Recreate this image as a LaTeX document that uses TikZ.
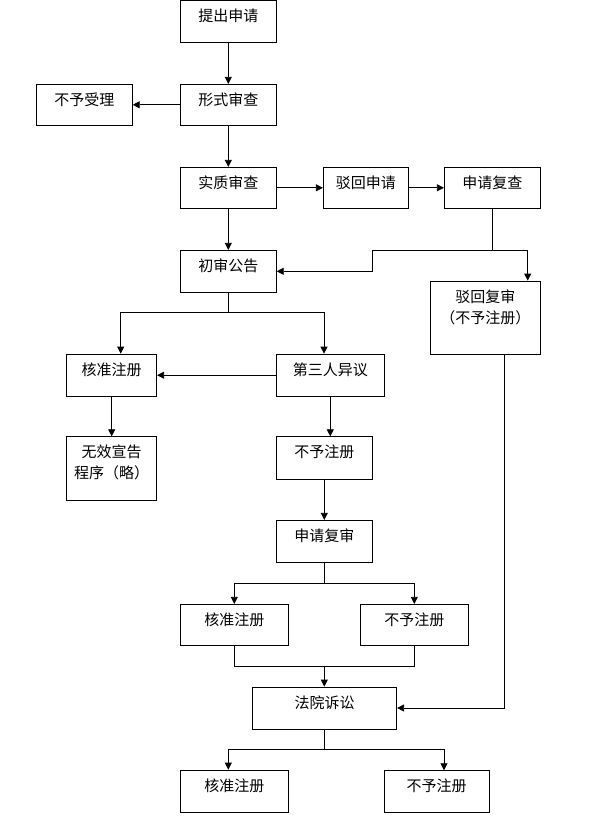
\documentclass[tikz,border=0pt]{standalone}
\usepackage{fontspec}
\setmainfont{Noto Sans CJK SC}
\usetikzlibrary{arrows.meta}
\newcommand\mybox[6]{\node[boxst, minimum width=#3pt, minimum height=#4pt, label={[txt, yshift=-#6pt]north:#5}] (#1) at (#2) {};}
\begin{document}
\begin{tikzpicture}[x=1pt,y=-1pt, line width=0.8pt,
  boxst/.style={draw, inner sep=0pt, fill=white},
  txt/.style={anchor=center, inner sep=0pt, align=center, font=\fontsize{15pt}{21pt}\selectfont},
  arr/.style={-{Triangle[length=7pt,width=7pt]}}]
\useasboundingbox (0,0) rectangle (595,824);
\mybox{a}{228.3,21.4}{96.6}{41.8}{提出申请}{16}
\mybox{b}{228.3,104.8}{96}{41}{形式审查}{16}
\mybox{c}{84.3,104.8}{96}{41}{不予受理}{16}
\mybox{d}{228.3,187.8}{96}{41}{实质审查}{16}
\mybox{e}{365.8,187.8}{85}{41}{驳回申请}{16}
\mybox{f}{492.3,187.8}{96}{41}{申请复查}{16}
\mybox{g}{228.3,271.3}{96}{42}{初审公告}{16}
\mybox{h}{485.3,317.5}{110}{73}{驳回复审\\（不予注册）}{26.4}
\mybox{i}{111.7,375.2}{90}{42.3}{核准注册}{16}
\mybox{j}{330.3,375.2}{108}{42.3}{第三人异议}{16}
\mybox{k}{111.7,468.5}{90}{63.6}{无效宣告\\程序（略）}{26.3}
\mybox{l}{324.3,458}{96}{42.6}{不予注册}{16}
\mybox{m}{324.3,541.3}{96}{42}{申请复审}{16}
\mybox{n}{234.3,624.8}{108}{41}{核准注册}{16}
\mybox{o}{414.3,624.8}{108}{41}{不予注册}{16}
\mybox{p}{324.5,708}{144.4}{42}{法院诉讼}{16}
\mybox{q}{234.3,791.2}{108}{42.3}{核准注册}{16}
\mybox{r}{436.7,791.5}{105.3}{41.6}{不予注册}{16}
% connectors
\draw[arr] (a.south) -- (b.north);
\draw[arr] (b.west) -- (c.east);
\draw[arr] (b.south) -- (d.north);
\draw[arr] (d.east) -- (e.west);
\draw[arr] (e.east) -- (f.west);
\draw[arr] (d.south) -- (g.north);
\coordinate (f1) at (492.3,250);
\coordinate (f2) at (372.3,250);
\coordinate (f3) at (527.7,250);
\draw (f.south) -- (f1);
\draw[arr] (f1) -- (f2) |- (g.east);
\draw[arr] (f1) -- (f3) -- (f3 |- h.north);
\coordinate (g1) at (228.3,312.3);
\draw (g.south) -- (g1);
\draw[arr] (g1) -| ([xshift=9pt]i.north);
\draw[arr] (g1) -| ([xshift=-6.3pt]j.north);
\draw[arr] (j.west) -- (i.east);
\draw[arr] (i.south) -- (k.north);
\draw[arr] (j.south) -- (j.south |- l.north);
\draw[arr] (l.south) -- (m.north);
\coordinate (m1) at (324.3,583);
\draw (m.south) -- (m1);
\draw[arr] (m1) -| (n.north);
\draw[arr] (m1) -| (o.north);
\coordinate (no) at (324.3,666.3);
\draw (n.south) |- (no) -| (o.south);
\draw[arr] (no) -- (no |- p.north);
\draw[arr] ([xshift=19pt]h.south) |- (p.east);
\coordinate (p1) at (324.5,749.3);
\draw (p.south) -- (p1);
\draw[arr] (p1) -| ([xshift=-6pt]q.north);
\draw[arr] (p1) -| ([xshift=7.3pt]r.north);
\end{tikzpicture}
\end{document}
